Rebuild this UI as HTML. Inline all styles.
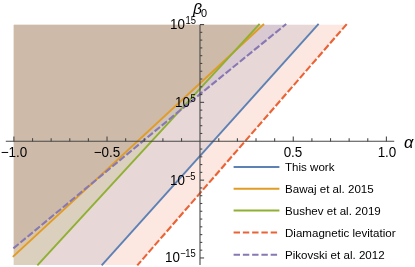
<!DOCTYPE html><html><head><meta charset="utf-8"><style>
html,body{margin:0;padding:0;background:#fff}body{width:415px;height:267px;position:relative;overflow:hidden;font-family:"Liberation Sans",sans-serif;color:#000}
.t{position:absolute;white-space:nowrap;line-height:1;will-change:transform}
.sup{position:relative;display:inline-block;line-height:1}
</style></head><body>
<svg width="415" height="267" viewBox="0 0 415 267" style="position:absolute;left:0;top:0">
<rect width="415" height="267" fill="#fff"/>
<clipPath id="pc"><rect x="13.7" y="24.65" width="415" height="240.25"/></clipPath><g clip-path="url(#pc)">
<polygon points="-50.00,-50.00 338.15,2.18 82.15,287.12 -50.00,400.00" fill="#5e81b5" fill-opacity="0.15"/>
<polygon points="-50.00,-50.00 285.40,4.10 -8.60,276.70 -50.00,400.00" fill="#e19c24" fill-opacity="0.15"/>
<polygon points="-50.00,-50.00 279.42,2.43 17.58,286.87 -50.00,400.00" fill="#8fb032" fill-opacity="0.15"/>
<polygon points="-50.00,-50.00 366.07,1.85 118.13,287.45 -50.00,400.00" fill="#eb6235" fill-opacity="0.15"/>
<polygon points="-50.00,-50.00 308.86,5.56 178.00,112.10 -9.71,267.53 -50.00,400.00" fill="#8778b3" fill-opacity="0.15"/>
</g>
<polyline points="101.67,265.40 318.63,23.90" fill="none" stroke="#5e81b5" stroke-width="1.9"/>
<polyline points="12.81,256.84 263.99,23.96" fill="none" stroke="#e19c24" stroke-width="1.9"/>
<polyline points="37.36,265.39 259.64,23.91" fill="none" stroke="#8fb032" stroke-width="1.9"/>
<polyline points="137.28,265.40 346.92,23.90" fill="none" stroke="#eb6235" stroke-width="2.1" stroke-dasharray="6.9 2.33" stroke-dashoffset="1.2"/>
<polyline points="12.78,248.91 178.00,112.10 286.22,23.99" fill="none" stroke="#8778b3" stroke-width="2.1" stroke-dasharray="6.85 2.32" stroke-dashoffset="-0.8"/>
<g stroke="#484848" stroke-width="1.1" fill="none">
<line x1="5.8" y1="141.25" x2="394.2" y2="141.25" stroke-width="1.2"/>
<line x1="200.0" y1="24.65" x2="200.0" y2="264.9"/>
<line x1="13.90" y1="141.55" x2="13.90" y2="136.45000000000002"/>
<line x1="32.53" y1="141.55" x2="32.53" y2="138.15"/>
<line x1="51.15" y1="141.55" x2="51.15" y2="138.15"/>
<line x1="69.78" y1="141.55" x2="69.78" y2="138.15"/>
<line x1="88.40" y1="141.55" x2="88.40" y2="138.15"/>
<line x1="107.03" y1="141.55" x2="107.03" y2="136.45000000000002"/>
<line x1="125.65" y1="141.55" x2="125.65" y2="138.15"/>
<line x1="144.28" y1="141.55" x2="144.28" y2="138.15"/>
<line x1="162.90" y1="141.55" x2="162.90" y2="138.15"/>
<line x1="181.53" y1="141.55" x2="181.53" y2="138.15"/>
<line x1="218.78" y1="141.55" x2="218.78" y2="138.15"/>
<line x1="237.40" y1="141.55" x2="237.40" y2="138.15"/>
<line x1="256.02" y1="141.55" x2="256.02" y2="138.15"/>
<line x1="274.65" y1="141.55" x2="274.65" y2="138.15"/>
<line x1="293.27" y1="141.55" x2="293.27" y2="136.45000000000002"/>
<line x1="311.90" y1="141.55" x2="311.90" y2="138.15"/>
<line x1="330.52" y1="141.55" x2="330.52" y2="138.15"/>
<line x1="349.15" y1="141.55" x2="349.15" y2="138.15"/>
<line x1="367.77" y1="141.55" x2="367.77" y2="138.15"/>
<line x1="386.40" y1="141.55" x2="386.40" y2="136.45000000000002"/>
<line x1="200.0" y1="257.95" x2="204.1" y2="257.95"/>
<line x1="200.0" y1="250.17" x2="202.3" y2="250.17"/>
<line x1="200.0" y1="242.39" x2="202.3" y2="242.39"/>
<line x1="200.0" y1="234.61" x2="202.3" y2="234.61"/>
<line x1="200.0" y1="226.83" x2="202.3" y2="226.83"/>
<line x1="200.0" y1="219.05" x2="202.3" y2="219.05"/>
<line x1="200.0" y1="211.27" x2="202.3" y2="211.27"/>
<line x1="200.0" y1="203.49" x2="202.3" y2="203.49"/>
<line x1="200.0" y1="195.71" x2="202.3" y2="195.71"/>
<line x1="200.0" y1="187.93" x2="202.3" y2="187.93"/>
<line x1="200.0" y1="180.15" x2="204.1" y2="180.15"/>
<line x1="200.0" y1="172.37" x2="202.3" y2="172.37"/>
<line x1="200.0" y1="164.59" x2="202.3" y2="164.59"/>
<line x1="200.0" y1="156.81" x2="202.3" y2="156.81"/>
<line x1="200.0" y1="149.03" x2="202.3" y2="149.03"/>
<line x1="200.0" y1="133.47" x2="202.3" y2="133.47"/>
<line x1="200.0" y1="125.69" x2="202.3" y2="125.69"/>
<line x1="200.0" y1="117.91" x2="202.3" y2="117.91"/>
<line x1="200.0" y1="110.13" x2="202.3" y2="110.13"/>
<line x1="200.0" y1="102.35" x2="204.1" y2="102.35"/>
<line x1="200.0" y1="94.57" x2="202.3" y2="94.57"/>
<line x1="200.0" y1="86.79" x2="202.3" y2="86.79"/>
<line x1="200.0" y1="79.01" x2="202.3" y2="79.01"/>
<line x1="200.0" y1="71.23" x2="202.3" y2="71.23"/>
<line x1="200.0" y1="63.45" x2="202.3" y2="63.45"/>
<line x1="200.0" y1="55.67" x2="202.3" y2="55.67"/>
<line x1="200.0" y1="47.89" x2="202.3" y2="47.89"/>
<line x1="200.0" y1="40.11" x2="202.3" y2="40.11"/>
<line x1="200.0" y1="32.33" x2="202.3" y2="32.33"/>
<line x1="200.0" y1="24.55" x2="204.1" y2="24.55"/>
</g>
<line x1="233.6" y1="166.9" x2="279.4" y2="166.9" stroke="#5e81b5" stroke-width="2.0"/>
<line x1="233.6" y1="188.8" x2="279.4" y2="188.8" stroke="#e19c24" stroke-width="2.0"/>
<line x1="233.6" y1="210.6" x2="279.4" y2="210.6" stroke="#8fb032" stroke-width="2.0"/>
<line x1="233.6" y1="232.6" x2="279.4" y2="232.6" stroke="#eb6235" stroke-width="2.0" stroke-dasharray="6.4 2.87"/>
<line x1="233.6" y1="254.8" x2="279.4" y2="254.8" stroke="#8778b3" stroke-width="2.0" stroke-dasharray="6.4 2.87"/>
</svg>
<div class="t" style="left:-46.10px;width:120px;text-align:center;top:146.20px;font-size:13px;transform-origin:50% 84.65%;transform:scale(1.035,1.08);">−1.0</div>
<div class="t" style="left:47.00px;width:120px;text-align:center;top:146.20px;font-size:13px;transform-origin:50% 84.65%;transform:scale(1.035,1.08);">−0.5</div>
<div class="t" style="left:233.40px;width:120px;text-align:center;top:146.20px;font-size:13px;transform-origin:50% 84.65%;transform:scale(1.035,1.08);">0.5</div>
<div class="t" style="left:326.80px;width:120px;text-align:center;top:146.20px;font-size:13px;transform-origin:50% 84.65%;transform:scale(1.035,1.08);">1.0</div>
<div class="t" style="right:219.30px;top:17.96px;font-size:13.4px;transform-origin:100% 84.65%;transform:scale(1.0,1.07);">10<span class="sup" style="font-size:9.4px;top:-5.25px;margin-left:0.7px">15</span></div>
<div class="t" style="right:219.30px;top:95.76px;font-size:13.4px;transform-origin:100% 84.65%;transform:scale(1.0,1.07);">10<span class="sup" style="font-size:9.4px;top:-5.25px;margin-left:0.7px">5</span></div>
<div class="t" style="right:219.30px;top:173.56px;font-size:13.4px;transform-origin:100% 84.65%;transform:scale(1.0,1.07);">10<span class="sup" style="font-size:9.4px;top:-5.25px;margin-left:0.7px"><span style="letter-spacing:-0.8px">−</span>5</span></div>
<div class="t" style="right:219.30px;top:251.36px;font-size:13.4px;transform-origin:100% 84.65%;transform:scale(1.0,1.07);">10<span class="sup" style="font-size:9.4px;top:-5.25px;margin-left:0.7px"><span style="letter-spacing:-0.8px">−</span>15</span></div>
<div class="t" style="left:193.10px;top:1.13px;font-size:15.2px;transform-origin:0 84.65%;transform:scale(1.04,1.0);font-style:italic;">β<span class="sup" style="font-style:normal;font-size:10.5px;top:2.8px;left:-1.0px">0</span></div>
<div class="t" style="left:404.30px;top:133.62px;font-size:16.4px;transform-origin:0 84.65%;transform:scale(1.0,1.0);font-style:italic;">α</div>
<div class="t" style="left:285.30px;top:162.05px;font-size:11.4px;transform-origin:0 84.65%;transform:scale(1.015,1.0);">This work</div>
<div class="t" style="left:285.30px;top:183.95px;font-size:11.4px;transform-origin:0 84.65%;transform:scale(1.015,1.0);">Bawaj et al. 2015</div>
<div class="t" style="left:285.30px;top:205.75px;font-size:11.4px;transform-origin:0 84.65%;transform:scale(1.015,1.0);">Bushev et al. 2019</div>
<div class="t" style="left:285.30px;top:227.75px;font-size:11.4px;transform-origin:0 84.65%;transform:scale(1.015,1.0);width:108.97px;overflow:hidden;padding-bottom:3px;">Diamagnetic levitation</div>
<div class="t" style="left:285.30px;top:249.95px;font-size:11.4px;transform-origin:0 84.65%;transform:scale(1.015,1.0);">Pikovski et al. 2012</div>
</body></html>
